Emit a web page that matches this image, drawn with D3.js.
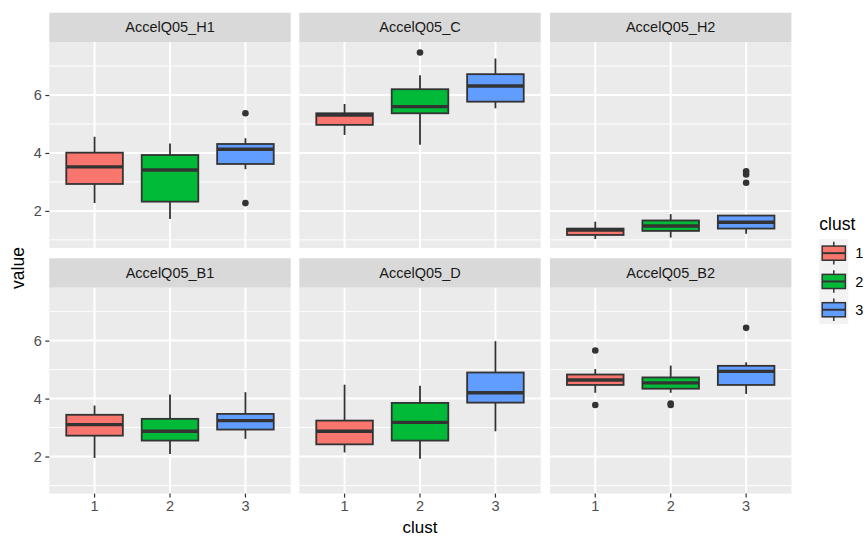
<!DOCTYPE html>
<html>
<head>
<meta charset="utf-8">
<script src="https://cdn.jsdelivr.net/npm/d3@7"></script>
<style>
  body { margin: 0; background: #fff; }
  svg { display: block; font-family: "Liberation Sans", Arial, sans-serif; }
</style>
</head>
<body>
<svg id="chart" width="867" height="538"></svg>
<script>
// ---- data ----
const facets = ["AccelQ05_H1", "AccelQ05_C", "AccelQ05_H2", "AccelQ05_B1", "AccelQ05_D", "AccelQ05_B2"];
const clusters = ["1", "2", "3"];
const clusterColors = ["#F8766D", "#00BA38", "#619CFF"];
// per facet, per cluster
const whiskerLow = [[2.27, 1.72, 3.44], [4.62, 4.28, 5.54], [1.03, 1.08, 1.21], [1.95, 2.09, 2.61], [2.14, 1.92, 2.87], [4.20, 4.20, 4.16]];
const q1 =         [[2.93, 2.32, 3.62], [4.97, 5.37, 5.77], [1.17, 1.31, 1.39], [2.72, 2.55, 2.93], [2.42, 2.55, 3.86], [4.47, 4.34, 4.47]];
const median =     [[3.52, 3.41, 4.13], [5.31, 5.60, 6.31], [1.34, 1.48, 1.61], [3.10, 2.87, 3.24], [2.87, 3.18, 4.20], [4.64, 4.54, 4.94]];
const q3 =         [[4.01, 3.93, 4.31], [5.37, 6.20, 6.72], [1.39, 1.67, 1.84], [3.44, 3.30, 3.47], [3.24, 3.85, 4.90], [4.83, 4.73, 5.13]];
const whiskerHigh =[[4.56, 4.33, 4.51], [5.69, 6.68, 7.26], [1.63, 1.89, 1.84], [3.76, 4.14, 4.22], [4.48, 4.44, 5.98], [5.02, 5.14, 5.25]];
const outliers =   [[[], [], [5.37, 2.27]], [[], [7.47], []], [[], [], [3.37, 3.26, 2.97]], [[], [], []], [[], [], []], [[5.66, 3.78], [3.83, 3.78], [6.44]]];
const yTicks = [2, 4, 6];
const yMinor = [1, 3, 5, 7];
const yDomain = [0.72, 7.83];

// ---- layout ----
const svg = d3.select("#chart");
const panelLeft = [49.3, 299.3, 550];
const panelW = 241.4;
const stripTop = [12.7, 258.3];
const stripH = 29.3;
const panelH = 206;

const x = d3.scaleBand().domain(clusters).range([0, panelW]).paddingInner(0.25).paddingOuter(0.225);
const y = d3.scaleLinear().domain(yDomain).range([panelH, 0]);
const color = d3.scaleOrdinal().domain(clusters).range(clusterColors);

facets.forEach((f, fi) => {
  const col = fi % 3, row = Math.floor(fi / 3);
  const g = svg.append("g").attr("transform", `translate(${panelLeft[col]},${stripTop[row] + stripH})`);
  // background
  g.append("rect").attr("width", panelW).attr("height", panelH).attr("fill", "#EBEBEB");
  // minor grid
  g.selectAll(".minor").data(yMinor).join("line")
    .attr("x1", 0).attr("x2", panelW).attr("y1", d => y(d)).attr("y2", d => y(d))
    .attr("stroke", "#fff").attr("stroke-width", 1);
  // major grid
  g.selectAll(".majory").data(yTicks).join("line")
    .attr("x1", 0).attr("x2", panelW).attr("y1", d => y(d)).attr("y2", d => y(d))
    .attr("stroke", "#fff").attr("stroke-width", 2);
  g.selectAll(".majorx").data(clusters).join("line")
    .attr("x1", d => x(d) + x.bandwidth() / 2).attr("x2", d => x(d) + x.bandwidth() / 2)
    .attr("y1", 0).attr("y2", panelH)
    .attr("stroke", "#fff").attr("stroke-width", 2);

  // boxes
  clusters.forEach((c, ci) => {
    const cx = x(c) + x.bandwidth() / 2;
    const bg = g.append("g");
    bg.append("line").attr("x1", cx).attr("x2", cx)
      .attr("y1", y(q3[fi][ci])).attr("y2", y(whiskerHigh[fi][ci]))
      .attr("stroke", "#333333").attr("stroke-width", 1.8);
    bg.append("line").attr("x1", cx).attr("x2", cx)
      .attr("y1", y(q1[fi][ci])).attr("y2", y(whiskerLow[fi][ci]))
      .attr("stroke", "#333333").attr("stroke-width", 1.8);
    bg.append("rect").attr("x", x(c)).attr("width", x.bandwidth())
      .attr("y", y(q3[fi][ci])).attr("height", y(q1[fi][ci]) - y(q3[fi][ci]))
      .attr("fill", color(c)).attr("stroke", "#333333").attr("stroke-width", 1.8);
    bg.append("line").attr("x1", x(c)).attr("x2", x(c) + x.bandwidth())
      .attr("y1", y(median[fi][ci])).attr("y2", y(median[fi][ci]))
      .attr("stroke", "#333333").attr("stroke-width", 3.4);
    bg.selectAll("circle").data(outliers[fi][ci]).join("circle")
      .attr("cx", cx).attr("cy", d => y(d)).attr("r", 3.3).attr("fill", "#333333");
  });

  // strip
  const s = svg.append("g").attr("transform", `translate(${panelLeft[col]},${stripTop[row]})`);
  s.append("rect").attr("width", panelW).attr("height", stripH).attr("fill", "#D9D9D9");
  s.append("text").attr("x", panelW / 2).attr("y", stripH / 2).attr("dy", "0.35em")
    .attr("text-anchor", "middle").attr("font-size", 14.5).attr("fill", "#1A1A1A").text(f);

  // y axis on left column
  if (col === 0) {
    const ax = g.append("g").call(d3.axisLeft(y).tickValues(yTicks).tickSize(4).tickPadding(3.5).tickFormat(d3.format("d")));
    ax.select(".domain").remove();
    ax.selectAll("line").attr("stroke", "#333333").attr("stroke-width", 1.2);
    ax.selectAll("text").attr("font-size", 14.5).attr("fill", "#4D4D4D").attr("font-family", "Liberation Sans, Arial, sans-serif");
  }
  // x axis on bottom row
  if (row === 1) {
    const ax = g.append("g").attr("transform", `translate(0,${panelH})`)
      .call(d3.axisBottom(x).tickSize(4).tickPadding(3));
    ax.select(".domain").remove();
    ax.selectAll("line").attr("stroke", "#333333").attr("stroke-width", 1.2);
    ax.selectAll("text").attr("font-size", 14.5).attr("fill", "#4D4D4D").attr("font-family", "Liberation Sans, Arial, sans-serif");
  }
});

// axis titles
svg.append("text").attr("x", 420).attr("y", 533).attr("text-anchor", "middle")
  .attr("font-size", 17).attr("fill", "#000").text("clust");
svg.append("text").attr("transform", "translate(24,268) rotate(-90)").attr("text-anchor", "middle")
  .attr("font-size", 17.5).attr("fill", "#000").text("value");

// legend
const lg = svg.append("g").attr("transform", "translate(819.3,0)");
lg.append("text").attr("x", 0).attr("y", 230).attr("font-size", 17.5).attr("fill", "#000").text("clust");
const keyW = 29, keyH = 28.3, keyTop = 239;
clusters.forEach((c, i) => {
  const ky = keyTop + i * keyH;
  const k = lg.append("g").attr("transform", `translate(0,${ky})`);
  k.append("rect").attr("width", keyW).attr("height", keyH).attr("fill", "#F2F2F2");
  k.append("line").attr("x1", keyW / 2).attr("x2", keyW / 2).attr("y1", keyH * 0.1).attr("y2", keyH * 0.9)
    .attr("stroke", "#333333").attr("stroke-width", 1.5);
  k.append("rect").attr("x", keyW * 0.1).attr("width", keyW * 0.8).attr("y", keyH * 0.25).attr("height", keyH * 0.5)
    .attr("fill", color(c)).attr("stroke", "#333333").attr("stroke-width", 1.5);
  k.append("line").attr("x1", keyW * 0.1).attr("x2", keyW * 0.9).attr("y1", keyH / 2).attr("y2", keyH / 2)
    .attr("stroke", "#333333").attr("stroke-width", 2);
  k.append("text").attr("x", keyW + 7).attr("y", keyH / 2).attr("dy", "0.35em")
    .attr("font-size", 14.5).attr("fill", "#000").text(c);
});
</script>
</body>
</html>
